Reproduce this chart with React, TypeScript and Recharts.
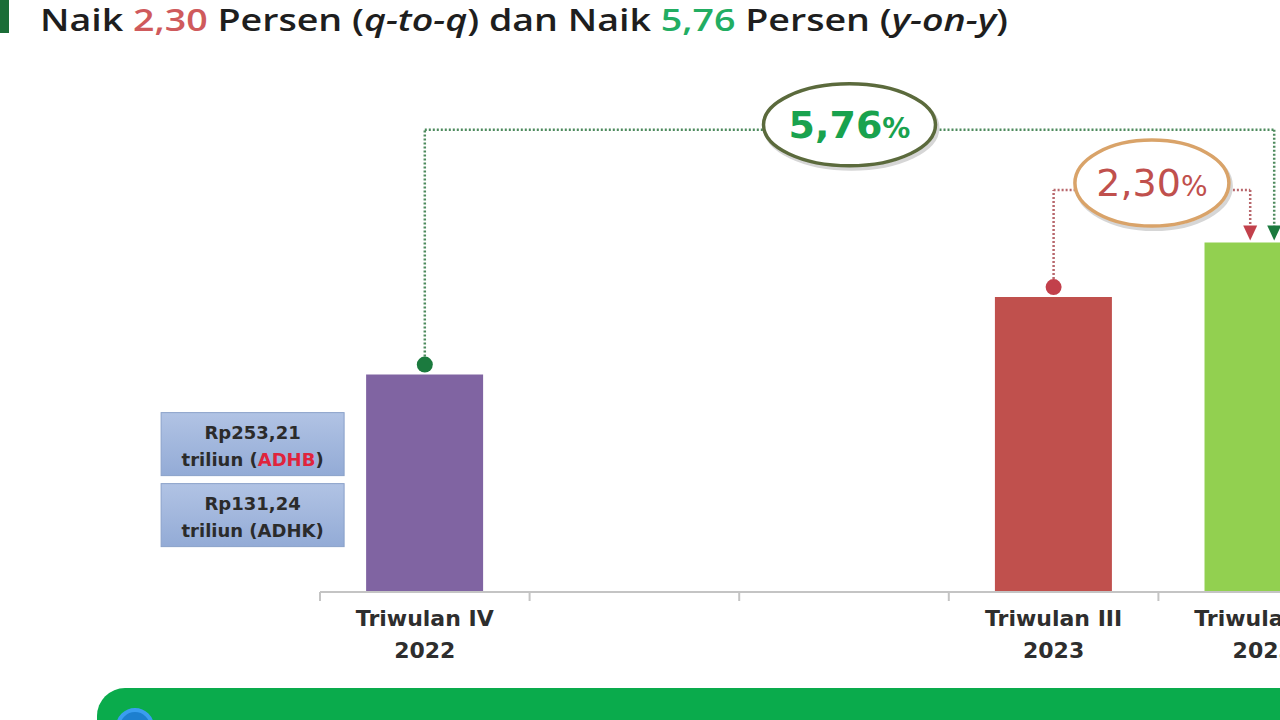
import { BarChart, Bar, XAxis, YAxis, Cell, LabelList, ReferenceLine } from 'recharts';

// PDRB per triwulan (triliun rupiah)
const quarters = ['Triwulan IV 2022', 'Triwulan I 2023', 'Triwulan II 2023', 'Triwulan III 2023', 'Triwulan IV 2023'];
const tickTop = ['Triwulan IV', '', '', 'Triwulan III', 'Triwulan IV'];
const tickBottom = ['2022', '', '', '2023', '2023'];
const adhkValues = [131.24, null, null, 135.68, 138.8];
const adhbValues = [253.21, null, null, 197.45, null];
const barColors = ['#8064a2', '#8064a2', '#8064a2', '#c0504d', '#92d050'];
const yoyGrowth = '5,76';
const qtqGrowth = '2,30';

const data = quarters.map((q, i) => ({ quarter: q, adhk: adhkValues[i], adhb: adhbValues[i] }));

const boxTheme: Record<number, { top: string; bottom: string; border: string }> = {
  0: { top: '#b1c3e4', bottom: '#93abd6', border: '#8aa1c9' },
  3: { top: '#d0ddb8', bottom: '#b8cb97', border: '#a9bd8a' },
};

const brackets = [
  { from: 0, to: 4, level: 145.25, dx: 11, text: yoyGrowth, color: '#19a24e', line: '#4d8a5d', ring: '#5b6a3c', head: '#1b7a3e', rx: 86, ry: 41, dy: -5, weight: 'bold' },
  { from: 3, to: 4, level: 141.8, dx: -13, text: qtqGrowth, color: '#c0504d', line: '#b8676c', ring: '#d9a369', head: '#c2404b', rx: 77, ry: 43, dy: -7, weight: 'normal' },
];

const fmt = (v: number) => v.toFixed(2).replace('.', ',');

function ValueBoxes(props: any) {
  const { x, y, index } = props;
  const theme = boxTheme[index];
  if (!theme || adhbValues[index] == null) return null;
  const right = x - 22;
  const w = 183;
  const left = right - w;
  const top = y + 38;
  const cx = left + w / 2;
  const rows = [
    { val: adhbValues[index] as number, tag: 'ADHB', red: true },
    { val: adhkValues[index] as number, tag: 'ADHK', red: false },
  ];
  return (
    <g>
      {rows.map((r, k) => {
        const t = top + k * 71;
        return (
          <g key={k}>
            <rect x={left} y={t} width={w} height={63} fill={`url(#box${index})`} stroke={theme.border} strokeWidth={1} />
            <text x={cx} y={t + 26} textAnchor="middle" fontSize={18} fontWeight="bold" fill="#2b2b2b">
              Rp{fmt(r.val)}
            </text>
            <text x={cx} y={t + 53} textAnchor="middle" fontSize={18} fontWeight="bold" fill="#2b2b2b">
              triliun (<tspan fill={r.red ? '#e0243c' : '#2b2b2b'}>{r.tag}</tspan>)
            </text>
          </g>
        );
      })}
    </g>
  );
}

function QuarterTick(props: any) {
  const { x, y, payload } = props;
  const i = payload.index ?? quarters.indexOf(payload.value);
  const half = payload.offset ?? 0;
  return (
    <g>
      {half > 0 && <line x1={x - half} y1={y} x2={x - half} y2={y + 9} stroke="#c4c4c4" strokeWidth={2} />}
      <text x={x} y={y + 34} textAnchor="middle" fontSize={22} fontWeight="bold" fill="#2e2e2e">
        {tickTop[i]}
      </text>
      <text x={x} y={y + 66} textAnchor="middle" fontSize={22} fontWeight="bold" fill="#2e2e2e">
        {tickBottom[i]}
      </text>
    </g>
  );
}

export default function App() {
  return (
    <div style={{ position: 'absolute', left: 0, top: 0, width: 1280, height: 720, overflow: 'hidden', background: '#fff', fontFamily: '"DejaVu Sans", sans-serif' }}>
      <svg width={1280} height={720} style={{ position: 'absolute', left: 0, top: 0 }}>
        <rect x={0} y={0} width={9} height={33} fill="#1b6d37" />
        <text x={40} y={31} fontFamily="'Open Sans', sans-serif" fontWeight={600} fontSize={30} fill="#1e1e1e" textLength={968} lengthAdjust="spacingAndGlyphs">
          Naik <tspan fill="#cf5a5c">{qtqGrowth}</tspan> Persen (<tspan fontStyle="italic">q-to-q</tspan>) dan Naik{' '}
          <tspan fill="#22ad62">{yoyGrowth}</tspan> Persen (<tspan fontStyle="italic">y-on-y</tspan>)
        </text>
        <rect x={97} y={688} width={1300} height={90} rx={28} fill="#0aab4c" />
        <circle cx={135} cy={727} r={17} fill="#1d7fcf" stroke="#3a9df0" strokeWidth={4} />
      </svg>
      <div style={{ position: 'absolute', left: 0, top: 0 }}>
        <BarChart width={1368} height={720} data={data} margin={{ top: 80, right: 0, bottom: 58, left: 320 }} barCategoryGap="22%">
          <defs>
            {Object.entries(boxTheme).map(([k, t]) => (
              <linearGradient key={k} id={`box${k}`} x1="0" y1="0" x2="0" y2="1">
                <stop offset="0%" stopColor={t.top} />
                <stop offset="100%" stopColor={t.bottom} />
              </linearGradient>
            ))}
          </defs>
          <XAxis
            dataKey="quarter"
            interval={0}
            height={70}
            tickSize={0}
            tickMargin={0}
            tickLine={false}
            axisLine={{ stroke: '#c4c4c4', strokeWidth: 2 }}
            tick={<QuarterTick />}
          />
          <YAxis hide type="number" domain={[118.8, 148.1]} allowDataOverflow />
          <Bar dataKey="adhk" isAnimationActive={false}>
            {data.map((_, i) => (
              <Cell key={i} fill={barColors[i]} />
            ))}
            <LabelList dataKey="adhk" content={<ValueBoxes />} />
          </Bar>
          {brackets.map((b, k) => [
            <ReferenceLine
              key={`up${k}`}
              ifOverflow="visible"
              segment={[
                { x: quarters[b.from], y: adhkValues[b.from] as number },
                { x: quarters[b.from], y: b.level },
              ]}
              shape={(p: any) => (
                <g>
                  <line x1={p.x1} y1={p.y1 - 18} x2={p.x2} y2={p.y2} stroke={b.line} strokeWidth={2.5} strokeDasharray="2 2" />
                  <circle cx={p.x1} cy={p.y1 - 10} r={8} fill={b.head} />
                </g>
              )}
            />,
            <ReferenceLine
              key={`across${k}`}
              ifOverflow="visible"
              segment={[
                { x: quarters[b.from], y: b.level },
                { x: quarters[b.to], y: b.level },
              ]}
              shape={(p: any) => {
                const x2 = p.x2 + b.dx;
                const mid = (p.x1 + x2) / 2;
                const cy = p.y1 + b.dy;
                return (
                  <g>
                    <line x1={p.x1} y1={p.y1} x2={mid - b.rx} y2={p.y1} stroke={b.line} strokeWidth={2.5} strokeDasharray="2 2" />
                    <line x1={mid + b.rx} y1={p.y1} x2={x2} y2={p.y1} stroke={b.line} strokeWidth={2.5} strokeDasharray="2 2" />
                    <ellipse cx={mid + 2} cy={cy + 3} rx={b.rx} ry={b.ry} fill="none" stroke="#d6d6d6" strokeWidth={4} />
                    <ellipse cx={mid} cy={cy} rx={b.rx} ry={b.ry} fill="#fff" stroke={b.ring} strokeWidth={3.5} />
                    <text x={mid} y={cy + 13} textAnchor="middle" fill={b.color} fontWeight={b.weight}>
                      <tspan fontSize={38}>{b.text}</tspan>
                      <tspan fontSize={28}>%</tspan>
                    </text>
                  </g>
                );
              }}
            />,
            <ReferenceLine
              key={`down${k}`}
              ifOverflow="visible"
              segment={[
                { x: quarters[b.to], y: b.level },
                { x: quarters[b.to], y: adhkValues[b.to] as number },
              ]}
              shape={(p: any) => {
                const x = p.x1 + b.dx;
                return (
                  <g>
                    <line x1={x} y1={p.y1} x2={x} y2={p.y2 - 16} stroke={b.line} strokeWidth={2.5} strokeDasharray="2 2" />
                    <polygon points={`${x - 7},${p.y2 - 17} ${x + 7},${p.y2 - 17} ${x},${p.y2 - 2}`} fill={b.head} />
                  </g>
                );
              }}
            />,
          ])}
        </BarChart>
      </div>
    </div>
  );
}
